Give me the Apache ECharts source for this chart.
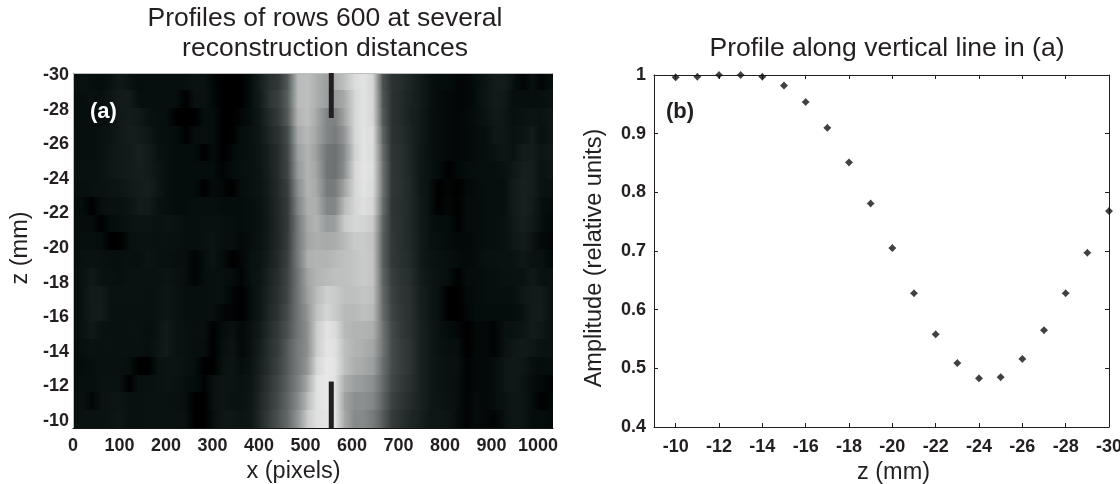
<!DOCTYPE html>
<html><head><meta charset="utf-8">
<style>html,body{margin:0;padding:0;background:#fff}#c{width:1120px;height:484px}</style>
<script src="https://cdn.jsdelivr.net/npm/echarts@6/dist/echarts.min.js"></script>
</head><body><div id="c"></div>
<script>
// (a) gray levels, each row is one z interval; samples every 20 x-pixels from x=0 to x=1020
var sampleStep = 20, xMax = 1024;
var zStart = -30;
var row30=[12,12,10,8,12,24,14,8,10,10,10,10,10,14,14,4,0,0, 0,10,30,50,62,100,190,195,180,165,180,195,220,228,215,90,55,48,38, 28,14,8,8,4,4,10,16,26,28,12,2,12,2,10];
var row29=[10,10,12,10,18,26,26,10,10,10,10,10,0,12,14,6,0,0, 0,10,28,55,70,105,190,195,180,165,160,175,215,228,215,95,55,45,36, 28,14,8,6,4,4,10,18,26,24,10,10,10,10,14];
var row28=[10,10,10,10,14,24,28,24,14,10,10,0,0,0,10,8,0,0, 4,10,24,45,65,100,185,195,175,140,135,170,215,228,215,100,55,45,34, 26,12,8,6,4,6,10,14,24,22,10,14,16,14,22];
var row27=[12,10,10,12,16,24,30,28,20,10,10,8,0,8,10,8,0,0, 10,12,22,40,55,85,175,190,170,140,130,155,215,228,220,110,55,48,36, 26,12,8,6,4,6,8,10,22,20,12,16,26,10,20];
var row26=[12,10,10,12,22,24,26,32,26,14,10,8,8,8,0,8,0,6, 10,12,18,34,52,80,165,185,165,125,120,145,210,228,220,120,58,50,38, 24,12,8,6,4,6,8,10,14,22,14,26,28,16,24];
var row25=[14,12,12,14,22,24,26,30,28,18,10,8,8,8,8,8,2,8, 10,12,18,32,52,78,160,185,170,125,120,150,215,230,222,125,60,50,40, 24,14,8,0,6,8,10,10,10,12,22,30,30,14,22];
var row24=[12,10,12,14,16,18,24,28,30,20,10,8,8,8,0,8,4,0, 10,12,16,30,48,72,150,185,175,130,130,170,215,228,220,125,60,52,42, 24,12,0,4,0,6,8,10,10,10,26,32,30,14,14];
var row23=[8,8,0,10,12,12,16,26,26,14,10,8,8,10,10,10,8,8, 8,10,14,28,46,68,140,180,180,140,140,190,215,225,215,120,58,50,42, 26,12,0,6,0,8,8,10,10,10,26,32,28,10,8];
var row22=[10,8,8,0,8,10,14,16,16,14,16,14,10,10,12,12,10,10, 8,10,14,26,44,66,130,175,185,160,165,205,215,215,205,110,60,50,42, 26,14,8,8,0,8,8,10,10,12,24,30,24,10,6];
var row21=[10,10,10,8,0,0,10,14,14,12,14,12,10,10,12,16,10,10, 6,10,14,28,44,70,130,170,180,175,178,190,205,205,198,105,62,50,42, 28,14,10,8,6,6,8,10,10,12,22,26,16,6,4];
var row20=[8,12,14,12,10,10,12,10,16,12,12,10,10,2,10,16,8,0, 4,12,16,30,48,74,130,180,185,185,190,195,200,205,200,105,62,52,44, 28,16,12,10,8,6,8,12,12,14,14,22,14,12,6];
var row19=[10,12,24,14,12,10,14,14,14,14,18,12,10,2,10,12,10,8, 2,12,18,36,52,78,125,170,185,190,195,195,200,205,200,110,68,55,48, 30,18,14,10,0,8,8,10,10,12,14,14,24,12,14];
var row18=[10,14,26,26,14,14,14,14,12,14,20,14,10,10,10,12,10,4, 0,10,20,38,55,80,125,165,190,210,205,195,195,200,195,115,72,58,50, 32,20,14,0,0,6,8,10,10,10,10,20,26,26,12];
var row17=[10,14,26,28,14,12,12,12,12,14,20,14,10,10,10,10,4,2, 0,10,22,42,60,85,125,155,195,215,205,190,190,195,190,118,75,60,52, 34,22,14,0,0,4,8,8,8,8,8,14,28,26,12];
var row16=[10,14,24,14,12,12,14,12,10,14,26,14,12,10,12,0,8,14, 6,12,26,46,66,90,125,150,205,228,220,190,185,185,180,125,80,62,52, 36,24,14,8,6,0,6,6,2,12,14,18,26,22,12];
var row15=[8,10,14,12,14,12,12,12,10,16,26,14,12,10,10,0,10,16, 6,14,30,50,70,100,130,150,205,230,225,195,185,180,172,125,82,65,55, 36,24,14,10,10,0,6,6,2,14,22,24,20,14,14];
var row14=[8,8,10,12,12,12,10,0,0,14,16,16,12,10,0,0,14,18, 8,16,34,52,75,100,130,155,215,232,228,195,180,175,165,120,82,65,55, 36,24,16,12,12,2,6,6,8,18,24,20,10,8,10];
var row13=[8,10,10,12,14,14,0,12,12,14,16,14,10,8,2,12,18,16, 12,18,38,58,80,105,135,175,225,232,225,180,165,160,150,115,78,62,50, 36,24,16,12,10,2,6,6,8,18,24,16,8,6,2];
var row12=[10,14,4,14,16,18,12,12,14,14,14,12,10,0,0,14,18,14, 14,20,42,62,85,110,145,190,225,232,228,170,150,150,140,108,72,58,46, 36,24,18,14,10,2,8,6,8,14,22,18,8,0,6];
var row11=[10,14,14,14,16,20,12,12,14,14,14,14,12,0,0,10,20,20, 16,22,44,66,90,115,155,205,225,230,228,175,145,145,130,100,65,52,40, 34,20,20,18,8,2,8,6,2,12,22,18,8,8,6];
var gridRows=[row30,row29,row28,row27,row26,row25,row24,row23,row22,row21,row20,row19,row18,row17,row16,row15,row14,row13,row12,row11];
// black line segments in (a): [zFrom, zTo]
var cutX = 551;
var cutSegments = [[-30,-27.47],[-12.64,-10]];
// (b) profile along the line
var profileZ = [-10,-11,-12,-13,-14,-15,-16,-17,-18,-19,-20,-21,-22,-23,-24,-25,-26,-27,-28,-29,-30];
var profileAmp = [0.996,0.997,1.0,1.0,0.997,0.982,0.954,0.910,0.851,0.781,0.705,0.628,0.558,0.509,0.483,0.485,0.516,0.565,0.628,0.697,0.768];
var ink = '#231f20', fontName = '"Liberation Sans", Arial, sans-serif';
var tickFont = {fontFamily:fontName,fontWeight:'bold',fontSize:18,color:ink};
var nameFont = {fontFamily:fontName,fontSize:23.5,color:ink};

function gray(v){
  var g=Math.round(235*Math.pow(v/235,1.15));
  var t=g<=0?0:Math.round(Math.min(g+2,8)*(1-g/235));
  return 'rgb('+g+','+(g+t)+','+(g+t)+')';
}
var cells=[];
gridRows.forEach(function(r,k){
  r.forEach(function(v,i){
    var next = i+1<r.length ? r[i+1] : v;
    var x1 = i+1<r.length ? (i+1)*sampleStep : xMax;
    cells.push([i*sampleStep,x1,zStart+k,zStart+k+1,v,next]);
  });
});
var chart=echarts.init(document.getElementById('c'),null,{renderer:'canvas'});
chart.setOption({
  animation:false,
  backgroundColor:'#fff',
  title:[
    {text:'Profiles of rows 600 at several\nreconstruction distances',left:320,top:-1,textAlign:'center',
     textStyle:{fontFamily:fontName,fontWeight:'normal',fontSize:26.5,lineHeight:30,color:ink}},
    {text:'Profile along vertical line in (a)',left:882,top:29,textAlign:'center',
     textStyle:{fontFamily:fontName,fontWeight:'normal',fontSize:26.5,lineHeight:30,color:ink}}
  ],
  grid:[
    {left:73,top:73,width:480,height:355.5,show:false,outerBoundsMode:'none'},
    {left:73,top:75,width:465,height:346,show:false,outerBoundsMode:'none'},
    {left:654,top:75,width:455,height:352,show:false,outerBoundsMode:'none'}
  ],
  xAxis:[
    {gridIndex:0,type:'value',min:0,max:xMax,position:'bottom',z:5,
     axisLine:{show:true,onZero:false,lineStyle:{color:'#111',width:1}},axisTick:{show:false},splitLine:{show:false},axisLabel:{show:false}},
    {gridIndex:0,type:'value',min:0,max:xMax,position:'top',z:5,
     axisLine:{show:true,onZero:false,lineStyle:{color:'#bdbdbd',width:1}},axisTick:{show:false},axisLabel:{show:false},splitLine:{show:false}},
    {gridIndex:1,type:'value',min:0,max:1000,interval:100,position:'bottom',
     axisLine:{show:false,onZero:false},axisTick:{show:false},splitLine:{show:false},
     axisLabel:Object.assign({margin:16,formatter:function(v){return String(v);}},tickFont),
     name:'x (pixels)',nameLocation:'middle',nameGap:39,nameTextStyle:Object.assign({padding:[0,24,0,0]},nameFont)},
    {gridIndex:2,type:'value',inverse:true,min:-30,max:-9,interval:2,position:'bottom',z:5,
     axisLine:{show:true,onZero:false,lineStyle:{color:ink,width:1}},axisTick:{show:true,inside:true,length:4,lineStyle:{color:ink}},
     splitLine:{show:false},
     axisLabel:Object.assign({margin:11,formatter:function(v){return v===-9?'':v;}},tickFont),
     name:'z (mm)',nameLocation:'middle',nameGap:33,nameTextStyle:Object.assign({padding:[0,0,0,24]},nameFont)},
    {gridIndex:2,type:'value',inverse:true,min:-30,max:-9,interval:2,position:'top',z:5,
     axisLine:{show:true,onZero:false,lineStyle:{color:ink,width:1}},axisTick:{show:true,inside:true,length:4,lineStyle:{color:ink}},
     axisLabel:{show:false},splitLine:{show:false}}
  ],
  yAxis:[
    {gridIndex:0,type:'value',inverse:true,min:-30,max:-10,position:'left',z:5,
     axisLine:{show:true,onZero:false,lineStyle:{color:'#bdbdbd',width:1}},axisTick:{show:false},axisLabel:{show:false},splitLine:{show:false}},
    {gridIndex:1,type:'value',inverse:true,min:-30,max:-10,interval:2,position:'left',
     axisLine:{show:false},axisTick:{show:false},splitLine:{show:false},
     axisLabel:Object.assign({margin:4},tickFont),
     name:'z (mm)',nameLocation:'middle',nameGap:40,nameTextStyle:nameFont},
    {gridIndex:2,type:'value',min:0.4,max:1,interval:0.1,position:'left',z:5,
     axisLine:{show:true,onZero:false,lineStyle:{color:ink,width:1}},axisTick:{show:true,inside:true,length:4,lineStyle:{color:ink}},
     splitLine:{show:false},
     axisLabel:Object.assign({margin:8,formatter:function(v){return v===1?'1':v.toFixed(1);}},tickFont),
     name:'Amplitude (relative units)',nameLocation:'middle',nameGap:47,nameTextStyle:Object.assign({padding:[0,14,0,0]},nameFont)},
    {gridIndex:2,type:'value',min:0.4,max:1,interval:0.1,position:'right',z:5,
     axisLine:{show:true,onZero:false,lineStyle:{color:ink,width:1}},axisTick:{show:true,inside:true,length:4,lineStyle:{color:ink}},
     axisLabel:{show:false},splitLine:{show:false}}
  ],
  series:[
    {type:'custom',xAxisIndex:0,yAxisIndex:0,silent:true,clip:true,data:cells,encode:{x:[0,1],y:[2,3]},
     renderItem:function(p,api){
       var a=api.coord([api.value(0),api.value(2)]),b=api.coord([api.value(1),api.value(3)]);
       return {type:'rect',shape:{x:Math.floor(a[0]),y:Math.floor(a[1]),width:Math.ceil(b[0])-Math.floor(a[0]),height:Math.ceil(b[1])-Math.floor(a[1])},
         style:{fill:new echarts.graphic.LinearGradient(0,0,1,0,[{offset:0,color:gray(api.value(4))},{offset:1,color:gray(api.value(5))}])}};
     }},
    {type:'custom',xAxisIndex:0,yAxisIndex:0,silent:true,z:6,data:cutSegments.map(function(s){return [cutX,s[0],s[1]];}),encode:{x:0,y:[1,2]},
     renderItem:function(p,api){
       var a=api.coord([api.value(0),api.value(1)]),b=api.coord([api.value(0),api.value(2)]);
       return {type:'rect',shape:{x:a[0]-2.5,y:a[1],width:5,height:b[1]-a[1]},style:{fill:ink}};
     }},
    {type:'scatter',xAxisIndex:3,yAxisIndex:2,silent:true,clip:false,z:6,
     symbol:'path://M0,-5 L2.2,-2.6 L5,0 L2.2,2.6 L0,5 L-2.2,2.6 L-5,0 L-2.2,-2.6 Z',symbolSize:8,
     itemStyle:{color:'#111'},data:profileZ.map(function(z,i){return [z,profileAmp[i]];})}
  ],
  graphic:[
    {type:'text',left:90,top:101,z:10,style:{text:'(a)',fill:'#fff',font:'bold 22px '+fontName}},
    {type:'text',left:666,top:101,z:10,style:{text:'(b)',fill:ink,font:'bold 22px '+fontName}}
  ]
});
</script></body></html>
